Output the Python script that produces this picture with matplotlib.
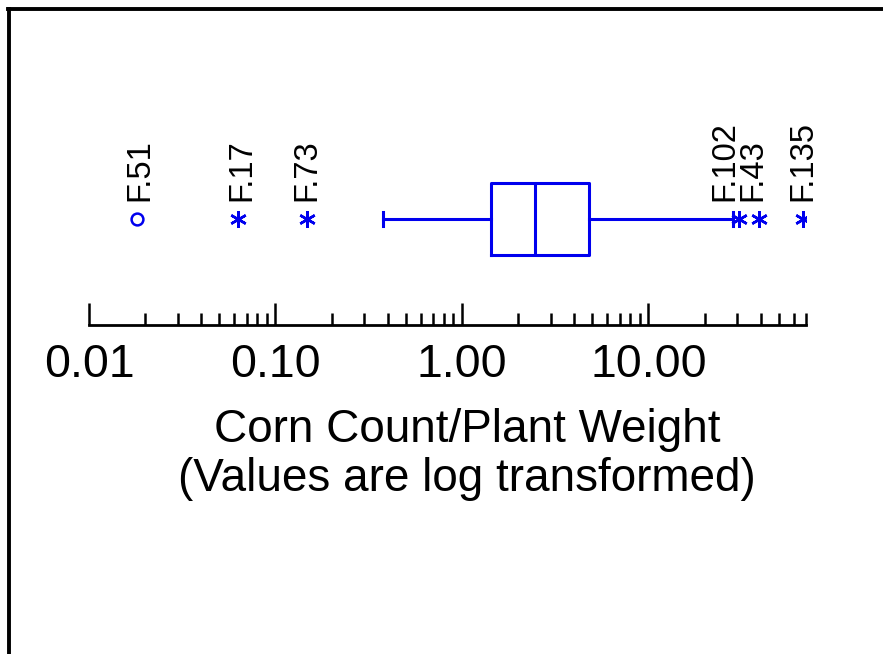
import matplotlib
matplotlib.use('Agg')
import matplotlib.pyplot as plt
from matplotlib.lines import Line2D

plt.rcParams['font.family'] = ['Liberation Sans', 'DejaVu Sans']

# box summary
q1 = 1.43
median = 2.46
q3 = 4.80
whisker_low = 0.377
whisker_high = 28.4

# outlier cases
out_labels = ['F.51', 'F.17', 'F.73', 'F.102', 'F.43', 'F.135']
out_values = [0.0181, 0.0629, 0.1476, 30.6, 39.1, 67.3]
out_extreme = [False, True, True, True, True, True]

tick_values = [0.01, 0.1, 1, 10]
tick_labels = ['0.01', '0.10', '1.00', '10.00']

blue = '#0000ee'
# small sideways shifts (points) so the crowded labels do not collide
label_shift = [2, 3, 0, -10, -4, 0]

fig = plt.figure(figsize=(8.83, 6.54), dpi=100)
ax = fig.add_axes([89/883, 1 - 325/654, (806-89)/883, 245/654])
ax.set_xscale('log')

ypos = 0.4327
stats = [{'med': median, 'q1': q1, 'q3': q3, 'whislo': whisker_low,
          'whishi': whisker_high, 'fliers': []}]
ax.bxp(stats, positions=[ypos], widths=0.29, vert=False, showfliers=False,
       capwidths=0.06,
       boxprops=dict(color=blue, linewidth=2.2),
       medianprops=dict(color=blue, linewidth=2.2),
       whiskerprops=dict(color=blue, linewidth=2.2),
       capprops=dict(color=blue, linewidth=2.2))

for lab, v, ext, dx in zip(out_labels, out_values, out_extreme, label_shift):
    if ext:
        ax.plot(v, ypos, marker=(6, 2, 0), markersize=12, color=blue,
                markeredgewidth=1.8, linestyle='none')
    else:
        ax.plot(v, ypos, marker='o', markersize=8.5, markerfacecolor='white',
                markeredgecolor=blue, markeredgewidth=1.8, linestyle='none')
    ax.annotate(lab, (v, ypos), xytext=(dx, 13), textcoords='offset points',
                rotation=90, ha='center', va='bottom', fontsize=23.5)

ax.set_xlim(0.01, 70)
ax.set_ylim(0, 1)
for s in ['top', 'left', 'right']:
    ax.spines[s].set_visible(False)
ax.spines['bottom'].set_linewidth(2)
ax.set_yticks([])
ax.set_xticks(tick_values)
ax.set_xticklabels(tick_labels)
ax.tick_params(axis='x', which='major', direction='in', length=16, width=1.8,
               labelsize=33.5, pad=13)
ax.tick_params(axis='x', which='minor', direction='in', length=8.5, width=1.8)
ax.patch.set_alpha(0)

fig.text(467/883, 1 - 430/654, 'Corn Count/Plant Weight', ha='center',
         va='center', fontsize=33)
fig.text(467/883, 1 - 479/654, '(Values are log transformed)', ha='center',
         va='center', fontsize=33)

# frame lines on top and left
fig.add_artist(Line2D([8/883, 1], [1 - 8.5/654, 1 - 8.5/654], color='black',
                      linewidth=2.8, transform=fig.transFigure))
fig.add_artist(Line2D([8.5/883, 8.5/883], [0, 1 - 8.5/654], color='black',
                      linewidth=2.8, transform=fig.transFigure))

fig.savefig('out.png', dpi=100)
